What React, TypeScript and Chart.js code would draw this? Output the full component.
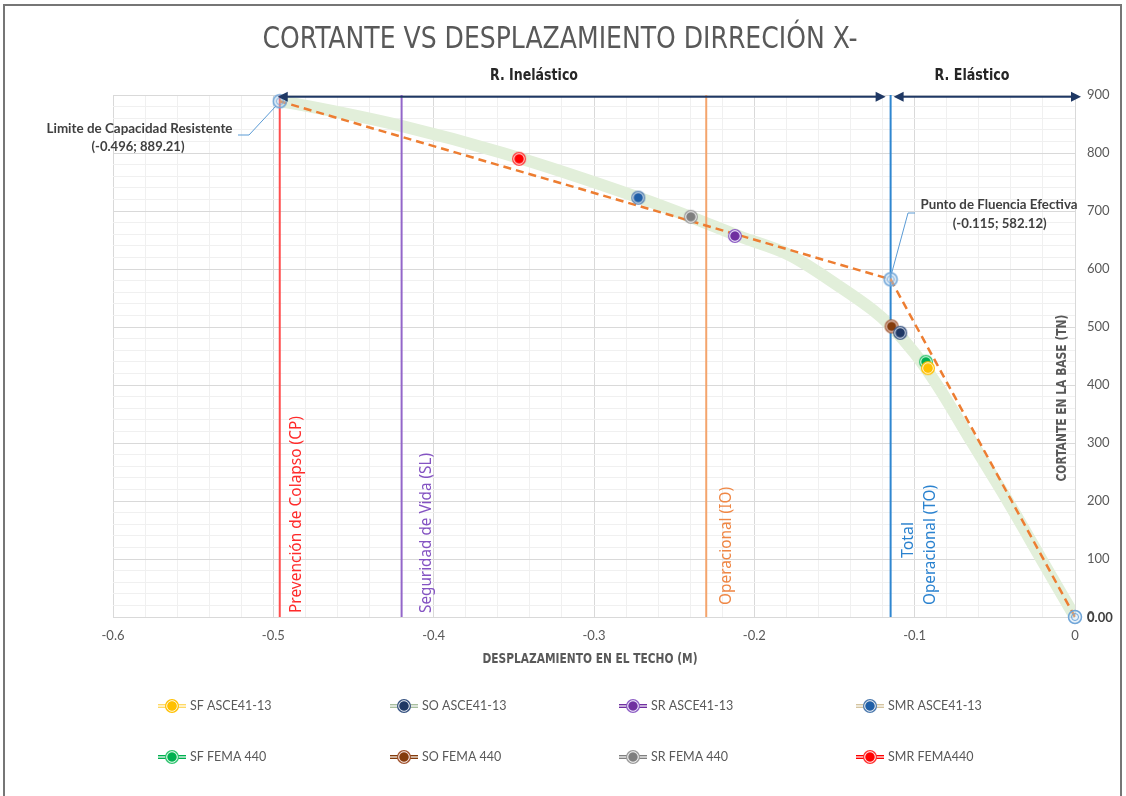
import React, { useEffect, useRef } from 'react';
import { Chart, registerables } from 'chart.js';
Chart.register(...registerables);

// ---------- data ----------
const seriesNames = ['SF ASCE41-13', 'SO ASCE41-13', 'SR ASCE41-13', 'SMR ASCE41-13', 'SF FEMA 440', 'SO FEMA 440', 'SR FEMA 440', 'SMR FEMA440'];
const seriesX = [-0.0917, -0.109, -0.2121, -0.2724, -0.093, -0.1144, -0.2396, -0.3467];
const seriesY = [429, 490, 657, 723, 440, 501, 690, 790];

const curveX = [-0.496, -0.481, -0.419, -0.357, -0.272, -0.24, -0.209, -0.178, -0.147, -0.126, -0.1154, -0.1, -0.086, -0.064, -0.042, -0.02, 0];
const curveY = [889, 882, 846, 800, 723, 690, 656, 624, 570, 529, 503, 455, 400, 300, 200, 95, 0];

const bilinX = [0, -0.115, -0.496];
const bilinY = [0, 582.12, 889.21];

const keyNames = ['Limite de Capacidad Resistente', 'Punto de Fluencia Efectiva'];
const keyX = [-0.496, -0.115];
const keyY = [889.21, 582.12];

const limitLabels = [['Prevención de Colapso (CP)'], ['Seguridad de Vida (SL)'], ['Operacional (IO)'], ['Total', 'Operacional (TO)']];
const limitX = [-0.496, -0.42, -0.23, -0.115];

const regionNames = ['R. Inelástico', 'R. Elástico'];
const regionBounds = [-0.496, -0.115, 0];

const xTickLabels = ['-0.6', '-0.5', '-0.4', '-0.3', '-0.2', '-0.1', '0'];
const yTickLabels = ['0', '100', '200', '300', '400', '500', '600', '700', '800', '900'];

const titleText = 'CORTANTE VS DESPLAZAMIENTO DIRRECIÓN X-';
const xTitle = 'DESPLAZAMIENTO EN EL TECHO (M)';
const yTitle = 'CORTANTE EN LA BASE (TN)';

// ---------- styles ----------
const markerOuter = ['#ffc000', '#34507f', '#8c5cc4', '#4a78ad', '#2ec46e', '#a0522d', '#9a9a9a', '#ff3030'];
const markerInner = ['#ffc000', '#1f3864', '#7030a0', '#1f5fa8', '#00b050', '#843c0c', '#7f7f7f', '#ff0000'];
const legendLine = ['#ffd966', '#a9bfa0', '#7030a0', '#d5c5a1', '#00b050', '#843c0c', '#808080', '#ff0000'];
const limitLineColors = ['#ff4d4d', '#9366c9', '#f4a46c', '#2f86d0'];
const limitTextColors = ['#ff2a2a', '#8453c2', '#ef8745', '#2a82cf'];

const NARROW = '"Liberation Sans Narrow", "Arial Narrow", "DejaVu Sans Condensed", sans-serif';
const LATO = 'Lato, "Open Sans", sans-serif';
const NOTO = '"Noto Sans", "Open Sans", sans-serif';

function makeMarker(outer: string, inner: string) {
  const c = document.createElement('canvas');
  c.width = 16; c.height = 16;
  const g = c.getContext('2d')!;
  g.beginPath(); g.arc(8, 8, 7, 0, Math.PI * 2); g.fillStyle = outer; g.fill();
  g.beginPath(); g.arc(8, 8, 5.3, 0, Math.PI * 2); g.strokeStyle = 'rgba(255,255,255,0.9)'; g.lineWidth = 1; g.stroke();
  g.beginPath(); g.arc(8, 8, 4.3, 0, Math.PI * 2); g.fillStyle = inner; g.fill();
  return c;
}

function makeKeyMarker() {
  const c = document.createElement('canvas');
  c.width = 16; c.height = 16;
  const g = c.getContext('2d')!;
  g.beginPath(); g.arc(8, 8, 6.5, 0, Math.PI * 2); g.fillStyle = 'rgba(189,215,238,0.35)'; g.fill();
  g.strokeStyle = '#6fa5d8'; g.lineWidth = 1.5; g.stroke();
  g.beginPath(); g.arc(8, 8, 3.5, 0, Math.PI * 2); g.strokeStyle = '#6fa5d8'; g.lineWidth = 1; g.stroke();
  return c;
}

type TxtOpt = { size: number; family: string; weight?: string; color: string; align?: CanvasTextAlign; width?: number; rot?: number };
function txt(ctx: CanvasRenderingContext2D, s: string, x: number, y: number, o: TxtOpt) {
  ctx.save();
  ctx.translate(x, y);
  if (o.rot) ctx.rotate(o.rot);
  ctx.font = `${o.weight || 'normal'} ${o.size}px ${o.family}`;
  ctx.textAlign = o.align || 'center';
  ctx.textBaseline = 'middle';
  ctx.fillStyle = o.color;
  if (o.width) {
    const w = ctx.measureText(s).width;
    ctx.scale(o.width / w, 1);
  }
  ctx.fillText(s, 0, 0);
  ctx.restore();
}

export default function App() {
  const ref = useRef<HTMLCanvasElement>(null);

  useEffect(() => {
    document.body.style.margin = '0';
    const markers = seriesNames.map((_, i) => makeMarker(markerOuter[i], markerInner[i]));
    const keyMarker = makeKeyMarker();

    const datasets: any[] = [];
    seriesNames.forEach((n, i) => {
      datasets.push({
        label: n,
        data: [{ x: seriesX[i], y: seriesY[i] }],
        pointStyle: markers[i],
        pointRadius: 7,
        showLine: false,
        order: 0,
        clip: false,
      });
    });
    datasets.push({
      label: 'puntos',
      data: bilinX.map((x, i) => ({ x, y: bilinY[i] })),
      pointStyle: keyMarker,
      pointRadius: 7,
      showLine: false,
      order: 1,
      clip: false,
    });
    datasets.push({
      label: 'bilineal',
      data: bilinX.map((x, i) => ({ x, y: bilinY[i] })),
      showLine: true,
      borderColor: '#ed7d31',
      borderWidth: 2.5,
      borderDash: [8, 5],
      pointRadius: 0,
      order: 2,
    });
    limitX.forEach((x, i) => {
      datasets.push({
        label: limitLabels[i].join(' '),
        data: [{ x, y: 0 }, { x, y: 900 }],
        showLine: true,
        borderColor: limitLineColors[i],
        borderWidth: 2,
        pointRadius: 0,
        order: 3,
      });
    });
    datasets.push({
      label: 'curva',
      data: curveX.map((x, i) => ({ x, y: curveY[i] })),
      showLine: true,
      borderColor: '#e2efda',
      borderWidth: 12,
      pointRadius: 0,
      cubicInterpolationMode: 'monotone',
      borderCapStyle: 'butt',
      order: 4,
    });

    const overlay = {
      id: 'overlay',
      beforeDraw(chart: any) {
        const { ctx, width, height } = chart;
        ctx.save();
        ctx.fillStyle = '#ffffff';
        ctx.fillRect(0, 0, width, height);
        ctx.strokeStyle = '#767676';
        ctx.lineWidth = 2;
        ctx.strokeRect(4, 5, 1117, 830);
        ctx.restore();
      },
      afterDraw(chart: any) {
        const { ctx } = chart;
        const xs = chart.scales.x;
        const ys = chart.scales.y;
        const px = (v: number) => xs.getPixelForValue(v);
        const py = (v: number) => ys.getPixelForValue(v);

        // vertical limit labels
        const dx = [[17], [25], [20], [18, 40]];
        const bottoms = [[613], [613], [605], [558, 605]];
        const lens = [[197], [160], [118], [36, 120]];
        limitLabels.forEach((lines, i) => {
          lines.forEach((s, j) => {
            txt(ctx, s, px(limitX[i]) + dx[i][j], bottoms[i][j], {
              size: 15.5, family: NOTO, color: limitTextColors[i], align: 'left', rot: -Math.PI / 2, width: lens[i][j],
            });
          });
        });

        // region arrows
        const ay = py(897);
        const arrow = (x1: number, x2: number) => {
          ctx.save();
          ctx.strokeStyle = '#1f3864';
          ctx.fillStyle = '#1f3864';
          ctx.lineWidth = 2;
          ctx.beginPath(); ctx.moveTo(x1 + 8, ay); ctx.lineTo(x2 - 8, ay); ctx.stroke();
          ctx.beginPath(); ctx.moveTo(x1, ay); ctx.lineTo(x1 + 10, ay - 5); ctx.lineTo(x1 + 10, ay + 5); ctx.closePath(); ctx.fill();
          ctx.beginPath(); ctx.moveTo(x2, ay); ctx.lineTo(x2 - 10, ay - 5); ctx.lineTo(x2 - 10, ay + 5); ctx.closePath(); ctx.fill();
          ctx.restore();
        };
        arrow(px(regionBounds[0]) - 2, px(regionBounds[1]) - 5);
        arrow(px(regionBounds[1]) + 3, px(regionBounds[2]) + 6);
        txt(ctx, regionNames[0], 534, 76, { size: 15, family: NARROW, weight: 'bold', color: '#262626', width: 88 });
        txt(ctx, regionNames[1], 972, 76, { size: 15, family: NARROW, weight: 'bold', color: '#262626', width: 75 });

        // key point leaders and labels
        ctx.save();
        ctx.strokeStyle = '#5b9bd5';
        ctx.lineWidth = 1;
        ctx.beginPath();
        ctx.moveTo(px(keyX[0]) - 4, py(keyY[0]) + 5);
        ctx.lineTo(249, 135); ctx.lineTo(238, 135);
        ctx.stroke();
        ctx.beginPath();
        ctx.moveTo(px(keyX[1]) + 1, py(keyY[1]) - 6);
        ctx.lineTo(908, 213); ctx.lineTo(915, 213);
        ctx.stroke();
        ctx.restore();
        const kfmt = (i: number) => `(${keyX[i].toFixed(3)}; ${keyY[i].toFixed(2)})`;
        txt(ctx, keyNames[0], 139.5, 129, { size: 13, family: LATO, weight: 'bold', color: '#404040', width: 186 });
        txt(ctx, kfmt(0), 138, 147, { size: 13, family: LATO, weight: 'bold', color: '#404040', width: 93 });
        txt(ctx, keyNames[1], 999, 205, { size: 13, family: LATO, weight: 'bold', color: '#404040', width: 157 });
        txt(ctx, kfmt(1), 999.7, 223.5, { size: 13, family: LATO, weight: 'bold', color: '#404040', width: 94 });

        // zero data label
        txt(ctx, bilinY[0].toFixed(2), 1087, py(0) + 1, { size: 13, family: LATO, weight: 'bold', color: '#404040', align: 'left' });

        // titles
        txt(ctx, titleText, 560, 40, { size: 31, family: NARROW, color: '#595959', width: 595 });
        txt(ctx, xTitle, 590, 659, { size: 14, family: NARROW, weight: 'bold', color: '#595959', width: 215 });
        txt(ctx, yTitle, 1062.5, 398, { size: 13.5, family: NARROW, weight: 'bold', color: '#595959', width: 167, rot: -Math.PI / 2 });

        // legend
        const colX = [172, 404, 633, 870];
        const rowY = [706, 757];
        seriesNames.forEach((n, i) => {
          const cx = colX[i % 4];
          const cy = rowY[Math.floor(i / 4)];
          ctx.save();
          ctx.strokeStyle = legendLine[i];
          ctx.lineWidth = 4;
          ctx.beginPath(); ctx.moveTo(cx - 14, cy); ctx.lineTo(cx + 14, cy); ctx.stroke();
          ctx.strokeStyle = '#ffffff';
          ctx.lineWidth = 1.2;
          ctx.beginPath(); ctx.moveTo(cx - 14, cy); ctx.lineTo(cx + 14, cy); ctx.stroke();
          ctx.drawImage(markers[i], cx - 8, cy - 8);
          ctx.restore();
          txt(ctx, n, cx + 18, cy, { size: 12.5, family: LATO, color: '#595959', align: 'left' });
        });
      },
    };

    const xMin = -0.6;
    const isMajorX = (v: number) => Math.abs((v - xMin) * 10 - Math.round((v - xMin) * 10)) < 1e-6;
    const isMajorY = (v: number) => Math.abs(v / 100 - Math.round(v / 100)) < 1e-6;

    const chart = new Chart(ref.current!, {
      type: 'scatter',
      data: { datasets },
      plugins: [overlay],
      options: {
        animation: false,
        responsive: false,
        devicePixelRatio: 1,
        events: [],
        layout: { padding: { left: 113, top: 95, right: 0, bottom: 139 } },
        plugins: { legend: { display: false }, title: { display: false }, tooltip: { enabled: false } },
        scales: {
          x: {
            type: 'linear',
            position: 'bottom',
            min: xMin,
            max: 0,
            border: { display: false },
            grid: {
              drawTicks: false,
              color: (c: any) => (c.tick && isMajorX(c.tick.value) ? '#d9d9d9' : '#f0f0f0'),
            },
            ticks: {
              stepSize: 0.02,
              autoSkip: false,
              maxRotation: 0,
              padding: 11,
              color: '#595959',
              font: { family: LATO, size: 13 },
              callback: (v: any) => (isMajorX(Number(v)) ? xTickLabels[Math.round((Number(v) - xMin) * 10)] : ''),
            },
            afterFit: (s: any) => { s.height = 40; },
          },
          y: {
            type: 'linear',
            position: 'right',
            min: 0,
            max: 900,
            border: { display: false },
            grid: {
              drawTicks: false,
              color: (c: any) => (c.tick && isMajorY(c.tick.value) ? '#d9d9d9' : '#f0f0f0'),
            },
            ticks: {
              stepSize: 20,
              autoSkip: false,
              padding: 12,
              color: '#595959',
              font: { family: LATO, size: 13 },
              callback: (v: any) => (isMajorY(Number(v)) ? yTickLabels[Math.round(Number(v) / 100)] : ''),
            },
            afterFit: (s: any) => { s.width = 51; },
          },
        },
      } as any,
    });
    return () => chart.destroy();
  }, []);

  return (
    <div style={{ width: 1126, height: 796, position: 'relative' }}>
      <canvas ref={ref} width={1126} height={796} style={{ display: 'block' }} />
    </div>
  );
}
